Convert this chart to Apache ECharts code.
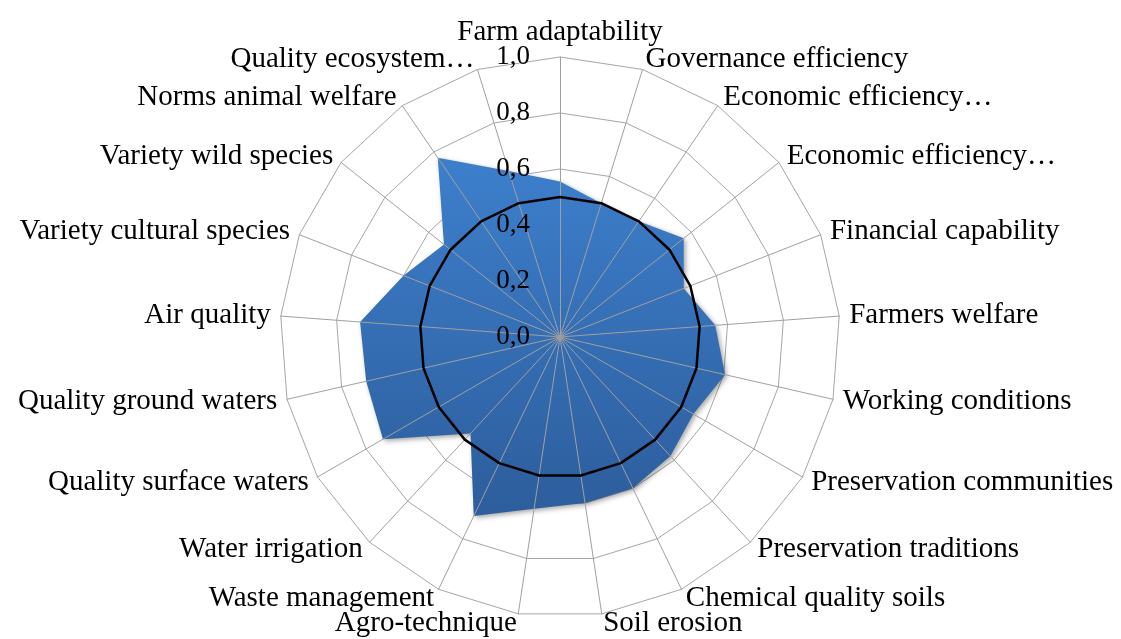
<!DOCTYPE html>
<html>
<head>
<meta charset="utf-8">
<script src="https://cdn.jsdelivr.net/npm/echarts@6/dist/echarts.min.js"></script>
<style>
  html, body { margin: 0; padding: 0; background: #fff; }
  #chart { width: 1121px; height: 639px; }
</style>
</head>
<body>
<div id="chart"></div>
<script>
// indicators, clockwise from the top
const categories = [
  'Farm adaptability', 'Governance efficiency', 'Economic efficiency…',
  'Economic efficiency…', 'Financial capability', 'Farmers welfare',
  'Working conditions', 'Preservation communities', 'Preservation traditions',
  'Chemical quality soils', 'Soil erosion', 'Agro-technique',
  'Waste management', 'Water irrigation', 'Quality surface waters',
  'Quality ground waters', 'Air quality', 'Variety cultural species',
  'Variety wild species', 'Norms animal welfare', 'Quality ecosystem…'
];

const actualValues = [
  0.555, 0.50, 0.50, 0.565, 0.475, 0.556, 0.605, 0.55, 0.58, 0.60, 0.60,
  0.62, 0.71, 0.47, 0.73, 0.71, 0.716, 0.60, 0.53, 0.775, 0.62
];

const referenceValues = categories.map(() => 0.5);

const fontFamily = '"Liberation Serif", "Times New Roman", serif';
const center = [560, 337];
const radius = 280;

const fmt = (v) => v.toFixed(1).replace('.', ',');

// echarts lays radar axes out counter-clockwise, the source goes clockwise
const clockwise = (arr) => [arr[0]].concat(arr.slice(1).reverse());

const chart = echarts.init(document.getElementById('chart'), null, { renderer: 'canvas' });

const option = {
  backgroundColor: '#fff',
  animation: false,
  radar: [
    {
      // rings + names, under the series
      center,
      radius,
      startAngle: 90,
      shape: 'polygon',
      splitNumber: 5,
      z: 0,
      indicator: clockwise(categories).map((name) => ({ name, min: 0, max: 1 })),
      axisName: { color: '#000', fontFamily, fontSize: 29 },
      nameGap: 10,
      splitLine: { lineStyle: { color: '#a6a6a6', width: 1 } },
      splitArea: { show: false },
      axisLine: { show: false },
      axisTick: { show: false },
      axisLabel: { show: false }
    },
    {
      // spokes + tick labels, above the area
      center,
      radius,
      startAngle: 90,
      shape: 'polygon',
      splitNumber: 5,
      z: 3,
      indicator: categories.map((name, i) => {
        const ind = { name: '', min: 0, max: 1 };
        if (i === 0) {
          ind.axisLabel = {
            show: true,
            color: '#000',
            fontFamily,
            fontSize: 27,
            margin: 30,
            formatter: fmt
          };
        }
        return ind;
      }),
      axisName: { show: false },
      splitLine: { show: false },
      splitArea: { show: false },
      axisLine: { show: true, lineStyle: { color: '#a0a0a0', width: 1 } },
      axisTick: { show: false },
      axisLabel: { show: false }
    }
  ],
  series: [
    {
      type: 'radar',
      radarIndex: 0,
      z: 2,
      symbol: 'none',
      lineStyle: { width: 0 },
      areaStyle: {
        opacity: 1,
        color: new echarts.graphic.LinearGradient(0, 0, 0, 1, [
          { offset: 0, color: '#3d7fcc' },
          { offset: 1, color: '#2d5d9c' }
        ]),
        shadowBlur: 5,
        shadowColor: 'rgba(0,0,0,0.35)',
        shadowOffsetX: 2,
        shadowOffsetY: 2
      },
      data: [{ value: clockwise(actualValues), name: 'Actual' }]
    },
    {
      type: 'radar',
      radarIndex: 1,
      z: 4,
      symbol: 'none',
      lineStyle: { color: '#000', width: 2.5 },
      data: [{ value: clockwise(referenceValues), name: 'Reference' }]
    }
  ]
};

chart.setOption(option);
</script>
</body>
</html>
